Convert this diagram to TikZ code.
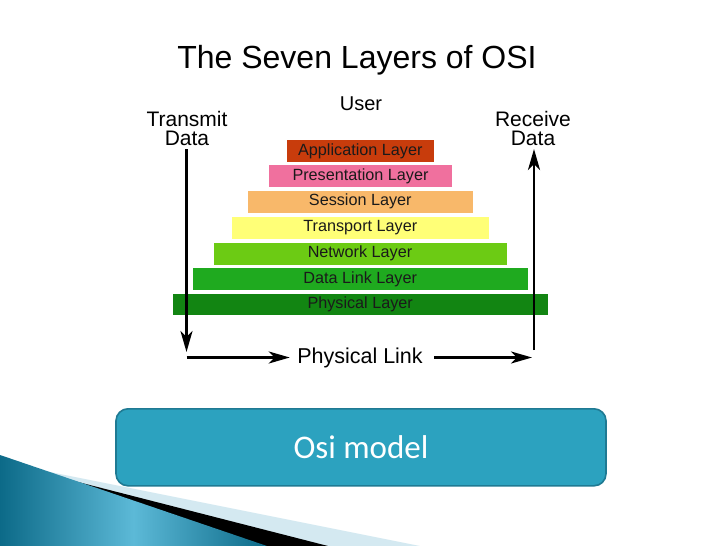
\documentclass[tikz,border=0pt]{standalone}
\usepackage{fontspec}
\setmainfont{Liberation Sans}
\newfontfamily\boxfont{Carlito}
\usetikzlibrary{arrows.meta,shadings}
\definecolor{appc}{HTML}{C83C0C}
\definecolor{presc}{HTML}{F0709E}
\definecolor{sessc}{HTML}{F8B86A}
\definecolor{tranc}{HTML}{FFFF77}
\definecolor{netc}{HTML}{6CCB14}
\definecolor{dlc}{HTML}{1FAA1F}
\definecolor{phyc}{HTML}{128512}
\definecolor{boxfill}{HTML}{2CA2BF}
\definecolor{boxedge}{HTML}{1F7A93}
\definecolor{lightwedge}{HTML}{D4E9F1}
\definecolor{tealdark}{HTML}{0C6A88}
\definecolor{teallight}{HTML}{5CB9D7}
\definecolor{labelc}{HTML}{1A1A1A}
\begin{document}
\begin{tikzpicture}[x=1pt,y=-1pt,
  layerbar/.style={inner sep=0pt,minimum height=22pt,text=labelc,font=\fontsize{16.2}{16}\selectfont},
  bigarrow/.style={line width=2.6pt,-{Stealth[length=21pt,width=12pt,inset=6pt]}},
  sidelabel/.style={align=center,font=\fontsize{21}{19}\selectfont}]
\useasboundingbox (0,0) rectangle (728,546);
\fill[white] (0,0) rectangle (728,546);
% bottom-left swoosh
\fill[lightwedge] (0,462) -- (420,546) -- (0,546) -- cycle;
\fill[black] (0,462) -- (328,546) -- (0,546) -- cycle;
\shade[left color=tealdark,right color=tealdark,middle color=teallight,shading angle=90]
  (0,455) -- (267,546) -- (0,546) -- cycle;
% title
\node (title) at (357,60) {\fontsize{32}{32}\selectfont The Seven Layers of OSI};
\node (user) at (361,104) {\fontsize{20}{20}\selectfont User};
\node[sidelabel] (tx) at (187,128) {Transmit\\Data};
\node[sidelabel] (rx) at (533,128) {Receive\\Data};
% layers
\node[layerbar,fill=appc,minimum width=147pt] (app) at (360.3,151) {Application Layer};
\node[layerbar,fill=presc,minimum width=183pt] (pres) at (360.5,176) {Presentation Layer};
\node[layerbar,fill=sessc,minimum width=225pt] (sess) at (360.3,201.7) {Session Layer};
\node[layerbar,fill=tranc,minimum width=257pt] (tran) at (360.3,227.7) {Transport Layer};
\node[layerbar,fill=netc,minimum width=293pt] (net) at (360,253.5) {Network Layer};
\node[layerbar,fill=dlc,minimum width=335pt] (dl) at (360.2,279.2) {Data Link Layer};
\node[layerbar,fill=phyc,minimum width=375pt,minimum height=21.5pt] (phy) at (360.2,304.7) {Physical Layer};
% arrows
\coordinate (txtop) at (186.5,149);
\coordinate (txbot) at (186.5,352);
\coordinate (rxbot) at (534,350);
\coordinate (rxtop) at (534,149);
\coordinate (hl) at (186.5,357.5);
\coordinate (hr) at (532,357.5);
\node (plink) at (360,357.5) {\fontsize{21.5}{21.5}\selectfont Physical Link};
\draw[bigarrow] (txtop) -- (txbot);
\draw[bigarrow] (rxbot) -- (rxtop);
\draw[bigarrow] (hl) -- ([xshift=-4pt]plink.west);
\draw[bigarrow] ([xshift=8pt]plink.east) -- (hr);
% bottom box
\node[draw=boxedge,line width=1.6pt,fill=boxfill,rounded corners=12pt,minimum width=490pt,minimum height=77pt,inner sep=0pt] (osibox) at (361,447.3) {};
\node[text=white] (osilabel) at (osibox.center) {\boxfont\fontsize{33}{33}\selectfont Osi model};
\end{tikzpicture}
\end{document}
